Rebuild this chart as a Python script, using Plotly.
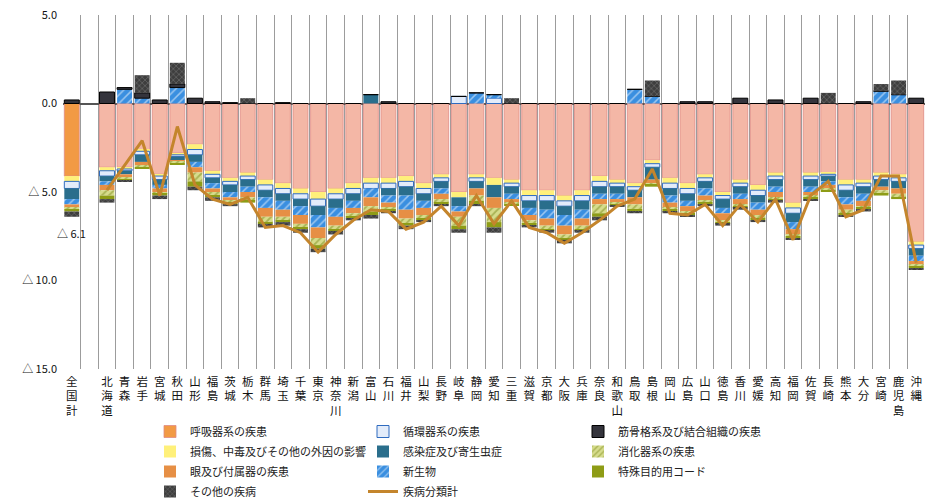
import plotly.graph_objects as go

categories = ["全国計", "", "北海道", "青森", "岩手", "宮城", "秋田", "山形", "福島", "茨城", "栃木", "群馬",
              "埼玉", "千葉", "東京", "神奈川", "新潟", "富山", "石川", "福井", "山梨", "長野", "岐阜",
              "静岡", "愛知", "三重", "滋賀", "京都", "大阪", "兵庫", "奈良", "和歌山", "鳥取", "島根",
              "岡山", "広島", "山口", "徳島", "香川", "愛媛", "高知", "福岡", "佐賀", "長崎", "熊本",
              "大分", "宮崎", "鹿児島", "沖縄"]

respiratory = [-4.1, None, -3.6, -3.6, -2.6, -4.0, -2.8, -2.3, -3.8, -4.2, -3.9, -4.3, -4.5, -4.8, -5.0,
               -4.8, -4.5, -4.2, -4.2, -4.1, -4.5, -4.0, -5.0, -4.0, -4.2, -4.3, -4.9, -4.9, -5.2, -4.9,
               -4.1, -4.3, -4.5, -3.2, -4.2, -4.5, -4.0, -5.0, -4.3, -4.6, -3.9, -5.6, -3.9, -3.9, -4.3,
               -4.3, -3.9, -4.0, -7.8]
injury = [-0.3, None, -0.2, -0.1, -0.1, -0.1, -0.1, -0.3, -0.2, -0.2, -0.2, -0.3, -0.3, -0.3, -0.4,
          -0.3, -0.3, -0.3, -0.3, -0.3, -0.3, -0.2, -0.3, -0.2, -0.4, -0.2, -0.3, -0.3, -0.3, -0.3,
          -0.3, -0.2, -0.2, -0.2, -0.3, -0.3, -0.2, -0.2, -0.2, -0.3, -0.2, -0.3, -0.2, -0.1, -0.3,
          -0.2, -0.2, -0.2, -0.2]
circulatory = [-0.4, None, -0.3, -0.1, -0.2, -0.2, -0.1, -0.3, -0.2, -0.2, -0.2, -0.3, -0.3, -0.3, -0.4,
               -0.3, -0.3, -0.3, -0.3, -0.3, -0.3, -0.2, 0.4, -0.2, 0.3, -0.2, -0.3, -0.3, -0.3, -0.3,
               -0.3, -0.2, -0.2, -0.2, -0.3, -0.3, -0.2, -0.2, -0.2, -0.3, -0.2, -0.3, -0.2, -0.1, -0.3,
               -0.2, -0.2, -0.2, -0.2]
infectious = [-0.6, None, -0.3, -0.2, -0.4, -0.3, -0.2, -0.4, -0.3, -0.4, -0.4, -0.4, -0.4, -0.4, -0.5,
              -0.5, -0.4, 0.5, -0.4, -0.5, -0.4, -0.4, -0.5, -0.4, -0.7, -0.4, -0.4, -0.5, -0.5, -0.5,
              -0.4, -0.4, -0.4, -0.7, -0.4, -0.4, -0.4, -0.5, -0.4, -0.4, -0.4, -0.5, -0.4, -0.3, -0.4,
              -0.4, -0.4, -0.4, -0.4]
neoplasm = [-0.3, None, -0.2, 0.8, 0.3, -0.2, 0.9, -0.3, -0.3, -0.3, -0.3, -0.6, -0.5, -0.5, -0.7,
            -0.5, -0.4, -0.5, -0.4, -0.8, -0.4, -0.3, -0.3, 0.6, 0.2, -0.3, -0.4, -0.5, -0.6, -0.5,
            -0.3, -0.3, 0.8, 0.4, -0.4, -0.3, -0.4, -0.3, -0.3, -0.4, -0.3, -0.4, -0.3, -0.2, -0.4,
            -0.4, 0.7, 0.5, -0.3]
eye = [-0.2, None, -0.3, -0.2, -0.2, -0.2, -0.1, -0.3, -0.2, -0.2, -0.3, -0.5, -0.4, -0.5, -0.6,
       -0.5, -0.3, -0.5, -0.3, -0.5, -0.4, -0.3, -0.3, -0.4, -0.6, -0.2, -0.3, -0.4, -0.5, -0.4,
       -0.3, -0.2, -0.4, -0.2, -0.3, -0.3, -0.3, -0.4, -0.3, -0.3, -0.3, -0.3, -0.2, -0.2, -0.3,
       -0.3, -0.2, -0.3, -0.2]
digestive = [-0.1, None, -0.3, -0.1, -0.1, -0.1, -0.1, -0.5, -0.2, -0.1, -0.2, -0.3, -0.2, -0.2, -0.4,
             -0.2, -0.2, -0.3, -0.1, -0.3, -0.2, -0.2, -0.5, -0.3, -0.8, -0.1, -0.2, -0.2, -0.2, -0.2,
             -0.5, -0.1, -0.3, -0.1, -0.1, -0.1, -0.1, -0.1, -0.1, -0.2, -0.1, -0.1, -0.1, -0.1, -0.2,
             -0.1, -0.2, -0.2, -0.1]
special = [-0.1, None, -0.2, -0.05, -0.1, -0.1, -0.05, -0.3, -0.1, -0.1, -0.1, -0.1, -0.1, -0.1, -0.2,
           -0.1, -0.1, -0.2, -0.1, -0.1, -0.1, -0.1, -0.2, -0.2, -0.3, -0.05, -0.1, -0.1, -0.1, -0.1,
           -0.2, -0.05, -0.1, -0.1, -0.1, -0.1, -0.1, -0.1, -0.1, -0.1, -0.1, -0.1, -0.1, -0.05, -0.1,
           -0.1, -0.1, -0.1, -0.1]
musculo = [0.2, None, 0.65, 0.1, 0.3, 0.2, 0.2, 0.3, 0.1, 0.05, 0.0, 0.0, 0.05, 0.0, 0.0,
           0.0, 0.0, 0.0, 0.1, 0.0, 0.0, 0.0, 0.0, 0.0, 0.0, 0.0, 0.0, 0.0, 0.0, 0.0,
           0.0, 0.0, 0.0, 0.0, 0.0, 0.1, 0.1, 0.0, 0.3, 0.0, 0.2, 0.0, 0.3, 0.0, 0.0,
           0.1, 0.0, 0.0, 0.3]
other = [-0.3, None, -0.2, -0.05, 1.0, -0.2, 1.2, -0.2, -0.2, -0.1, 0.3, -0.2, -0.2, -0.2, -0.2,
         -0.2, -0.1, -0.2, -0.1, -0.2, -0.1, -0.1, -0.2, -0.1, -0.3, 0.3, -0.1, -0.1, -0.2, -0.1,
         -0.2, -0.05, -0.1, 0.9, -0.1, -0.1, -0.1, -0.1, -0.1, -0.1, -0.1, -0.1, -0.1, 0.6, -0.1,
         -0.1, 0.4, 0.8, -0.1]
total = [None, None, -4.9, -3.5, -2.1, -5.2, -1.3, -4.6, -5.4, -5.7, -5.3, -7.0, -6.9, -7.3, -8.4,
         -7.4, -6.6, -6.0, -6.1, -7.1, -6.7, -5.8, -6.9, -5.2, -6.8, -5.5, -7.0, -7.3, -7.9, -7.3,
         -6.6, -5.8, -5.4, -3.7, -6.2, -6.3, -5.7, -6.9, -5.7, -6.7, -5.4, -7.7, -5.2, -4.4, -6.4,
         -6.0, -4.1, -4.1, -9.0]
national_total = -6.1
national_total_label = "△ 6.1"

ytick_vals = [5, 0, -5, -10, -15]
ytick_text = ["5.0", "0.0", "△ 5.0", "△ 10.0", "△ 15.0"]

x = list(range(len(categories)))
ticktext = ["<br>".join(list(c)) for c in categories]

fig = go.Figure()
JP = "Noto Sans CJK JP"

W, H = 926, 493


def add_bar(name, vals, color, legend, rank, pattern=None, line_color=None, line_width=0):
    marker = dict(color=color, line=dict(color=line_color or color, width=line_width))
    if pattern:
        marker["pattern"] = pattern
    fig.add_trace(go.Bar(x=x, y=vals, name=name, marker=marker, legend=legend,
                         legendgroup=name, legendrank=rank))


resp_colors = ["#f29a44"] + ["#f4b7a6"] * (len(categories) - 1)
add_bar("呼吸器系の疾患", respiratory, resp_colors, "legend", 1,
        line_color="#e08a84", line_width=0.8)
add_bar("損傷、中毒及びその他の外因の影響", injury, "#fff07a", "legend", 2)
add_bar("循環器系の疾患", circulatory, "#e3ecfa", "legend2", 1, line_color="#2f6bbf", line_width=1)
add_bar("感染症及び寄生虫症", infectious, "#2a6e8c", "legend2", 2)
add_bar("新生物", neoplasm, "#3a8fe0", "legend2", 3,
        pattern=dict(shape="/", fgcolor="#ffffff", bgcolor="#3a8fe0", fillmode="overlay", size=6, solidity=0.25))
add_bar("眼及び付属器の疾患", eye, "#e68f45", "legend", 3)
add_bar("消化器系の疾患", digestive, "#c6cf6e", "legend3", 2,
        pattern=dict(shape="/", fgcolor="#7b8a1c", bgcolor="#d6dc8c", fillmode="overlay", size=5, solidity=0.35))
add_bar("特殊目的用コード", special, "#8e9c16", "legend3", 3)
add_bar("筋骨格系及び結合組織の疾患", musculo, "#34343c", "legend3", 1, line_color="#000000", line_width=1)
add_bar("その他の疾病", other, "#3e3e3e", "legend", 4,
        pattern=dict(shape="x", fgcolor="#9a9a9a", bgcolor="#3e3e3e", fillmode="overlay", size=4, solidity=0.3))

fig.add_trace(go.Scatter(x=x, y=total, name="疾病分類計", mode="lines",
                         line=dict(color="#c4852c", width=3),
                         connectgaps=False, legend="legend2", legendgroup="total", legendrank=4))

fig.add_annotation(x=0, y=national_total, xref="x", yref="y", text=national_total_label,
                   showarrow=False, yshift=-22, font=dict(family=JP, size=11, color="#111"))

leg_common = dict(orientation="v", font=dict(family=JP, size=11, color="#222"),
                  bgcolor="rgba(0,0,0,0)", tracegroupgap=1, yanchor="top", xanchor="left",
                  itemwidth=30, yref="container", xref="container")
fig.update_layout(
    width=W, height=H,
    margin=dict(l=55, r=9, t=7, b=132, autoexpand=False),
    paper_bgcolor="white", plot_bgcolor="white",
    barmode="relative", bargap=0.15,
    font=dict(family=JP, color="#222"),
    legend=dict(x=142 / W, y=1 - 409 / H, **leg_common),
    legend2=dict(x=355 / W, y=1 - 409 / H, **leg_common),
    legend3=dict(x=570 / W, y=1 - 409 / H, **leg_common),
    xaxis=dict(range=[-0.5, len(categories) - 0.5], tickmode="array", tickvals=x, ticktext=ticktext,
               tickangle=0, tickfont=dict(family=JP, size=11.5, color="#111"), showgrid=False,
               ticks="", zeroline=False, showline=False, automargin=False, ticklabelstandoff=4,
               minor=dict(tick0=0.5, dtick=1, showgrid=True, gridcolor="#9c9c9c", gridwidth=1, ticks="")),
    yaxis=dict(range=[-15, 5], tickmode="array", tickvals=ytick_vals, ticktext=ytick_text,
               tickfont=dict(family=JP, size=11, color="#111"), showgrid=False, automargin=False,
               ticklabelstandoff=5, ticklabeloverflow="allow",
               zeroline=True, zerolinecolor="#555555", zerolinewidth=1.5, showline=False, ticks=""),
)

fig.write_html("out.html")
